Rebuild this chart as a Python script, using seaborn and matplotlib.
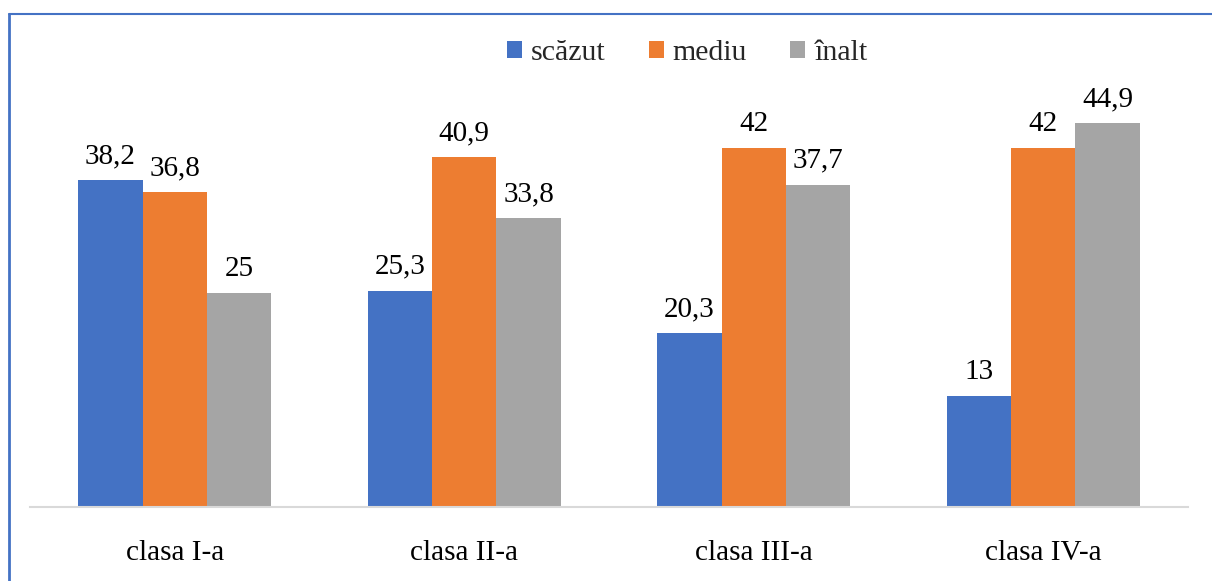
import matplotlib
matplotlib.use("Agg")
import matplotlib.pyplot as plt
import seaborn as sns
import pandas as pd
from matplotlib.lines import Line2D
from matplotlib.patches import Patch

categories = ["clasa I-a", "clasa II-a", "clasa III-a", "clasa IV-a"]
series = ["scăzut", "mediu", "înalt"]
scazut = [38.2, 25.3, 20.3, 13]
mediu = [36.8, 40.9, 42, 42]
inalt = [25, 33.8, 37.7, 44.9]
colors = ["#4472C4", "#ED7D31", "#A5A5A5"]

rows = []
for s, vals in zip(series, [scazut, mediu, inalt]):
    for c, v in zip(categories, vals):
        rows.append({"clasa": c, "nivel": s, "val": v})
df = pd.DataFrame(rows)

sns.set_theme(style="white")
plt.rcParams["font.family"] = ["Liberation Serif", "DejaVu Serif"]

fig = plt.figure(figsize=(12.12, 5.81), dpi=100)
ax = fig.add_axes([30/1212, 1-507/581, (1188-30)/1212, (507-79.5)/581])

sns.barplot(data=df, x="clasa", y="val", hue="nivel", order=categories,
            hue_order=series, palette=colors, width=0.667, gap=0,
            saturation=1, ax=ax, legend=False, linewidth=0)

def fmt(v):
    s = f"{v:g}"
    return s.replace(".", ",")

for cont in ax.containers:
    ax.bar_label(cont, labels=[fmt(b.get_height()) for b in cont], padding=8,
                 fontsize=21, color="#000000")

ax.set_xlim(-0.5, 3.5)
ax.set_ylim(0, 50)
ax.set_xlabel("")
ax.set_ylabel("")
ax.set_yticks([])
ax.tick_params(axis="x", length=0, labelsize=21, pad=24, colors="#000000")
for sp in ["top", "right", "left"]:
    ax.spines[sp].set_visible(False)
ax.spines["bottom"].set_color("#D9D9D9")
ax.spines["bottom"].set_linewidth(1.5)

handles = [Patch(facecolor=c, edgecolor="none") for c in colors]
fig.legend(handles, series, loc="center", bbox_to_anchor=(0.567, 0.909),
           ncol=3, frameon=False, fontsize=21.5, handlelength=0.5, handleheight=0.5,
           handletextpad=0.3, columnspacing=1.45)

# border lines
fig.add_artist(Line2D([9/1212, 1.0], [1-14/581, 1-14/581], color="#4472C4", lw=1.5,
                      transform=fig.transFigure))
fig.add_artist(Line2D([9/1212, 9/1212], [0, 1-14/581], color="#4472C4", lw=2,
                      transform=fig.transFigure))

fig.savefig("out.png", dpi=100)
